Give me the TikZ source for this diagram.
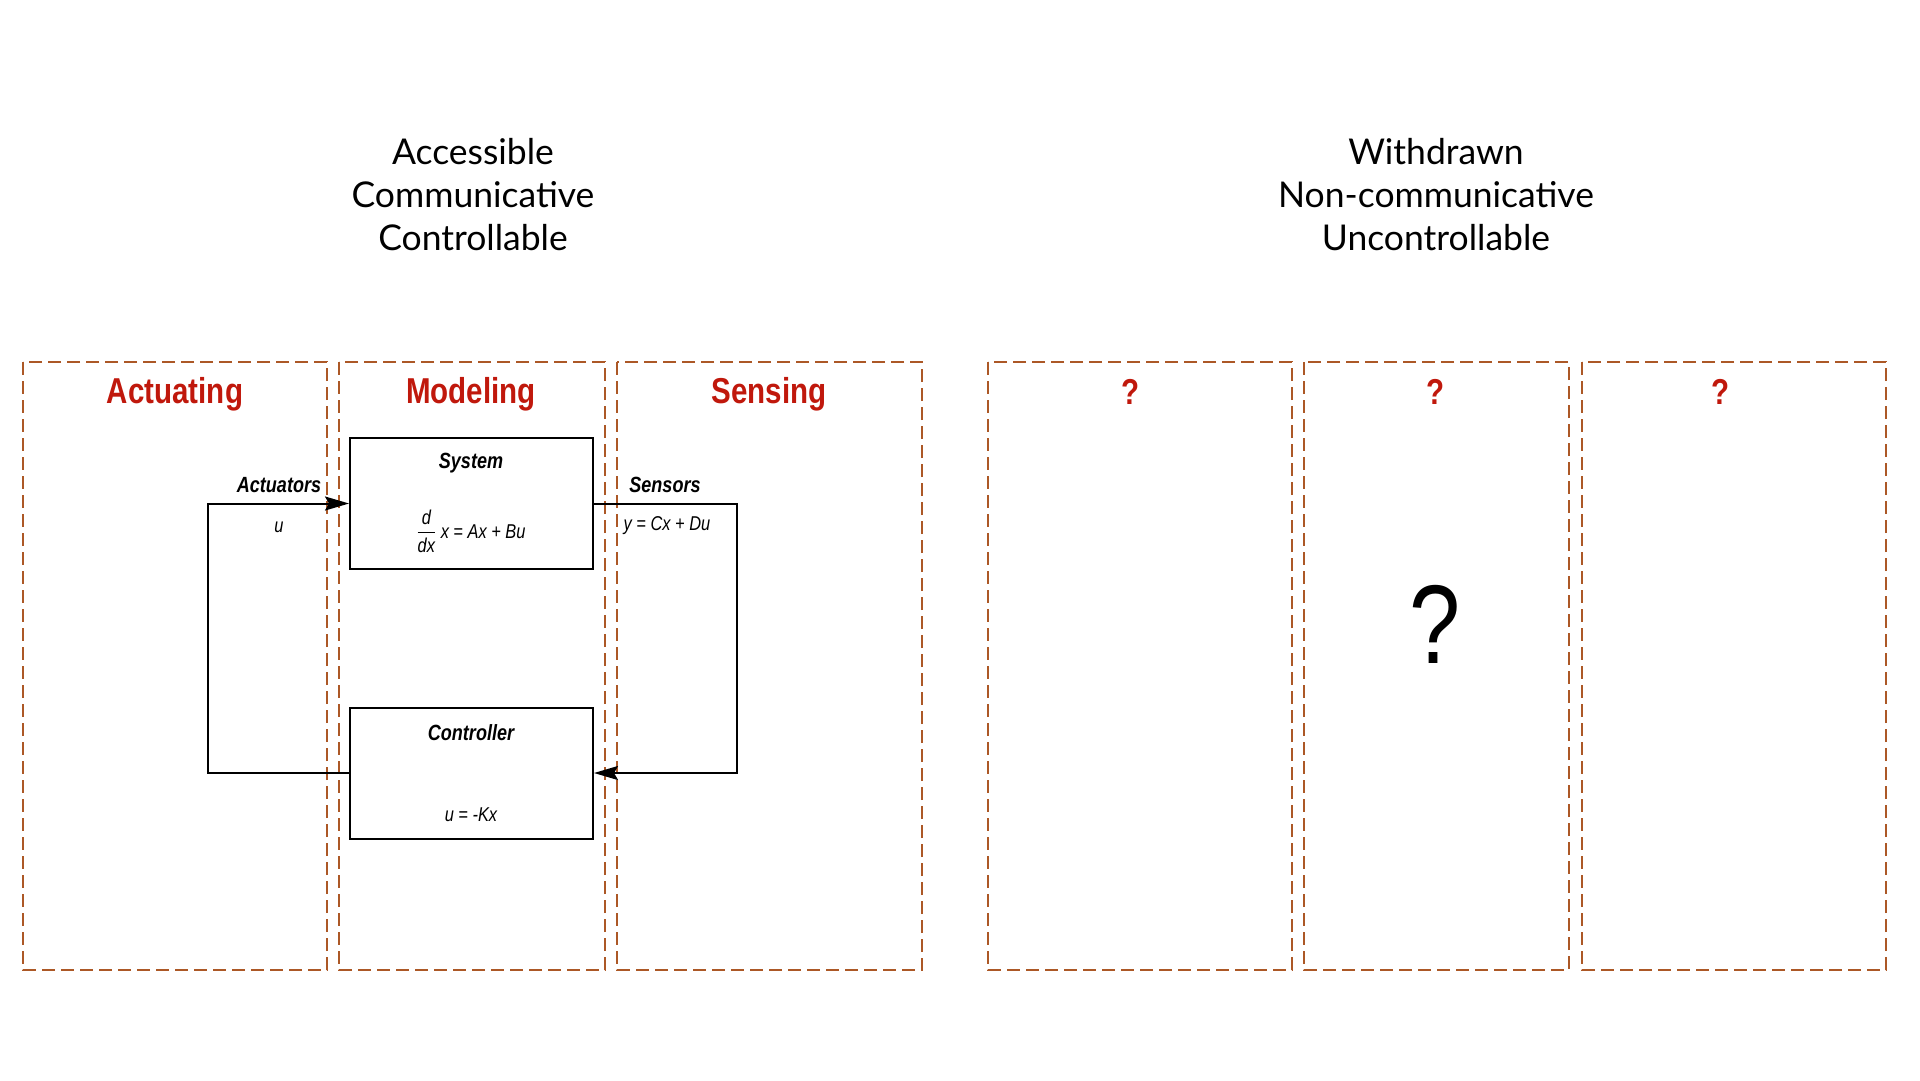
\documentclass[tikz,border=0pt]{standalone}
\usepackage{amsmath}
\usepackage{fontspec}
\setmainfont{Liberation Sans}[FakeStretch=0.82]
\newfontfamily\lightfont{Lato}
\usetikzlibrary{arrows.meta}

\definecolor{panelbrown}{RGB}{172,88,38}
\definecolor{headred}{RGB}{192,24,12}

\tikzset{
  panel/.style={draw=panelbrown, line width=2.4pt, dash pattern=on 13pt off 6pt},
  heading/.style={text=headred, font=\fontsize{36}{40}\selectfont\bfseries},
  block/.style={draw, line width=2pt, minimum width=243pt, minimum height=131pt, inner sep=0pt},
  blocktitle/.style={font=\fontsize{22}{26}\selectfont\bfseries\itshape},
  blocktext/.style={font=\fontsize{20}{23}\selectfont\itshape},
  wire/.style={line width=2pt},
  tip/.style={-{Stealth[length=24pt,width=14pt,inset=4pt]}},
  caption/.style={align=center, font=\lightfont\fontsize{35.5}{43}\selectfont}
}

\begin{document}
\begin{tikzpicture}[x=1pt, y=-1pt]
    \useasboundingbox (0,0) rectangle (1920,1080);

    % top captions
    \node[caption] (open) at (473,195) {Accessible\\Communicative\\Controllable};
    \node[caption] (closed) at (1436,195) {Withdrawn\\Non-communicative\\Uncontrollable};

    % dashed panels
    \foreach \xa/\xb in {23/327, 339/605, 617/922, 988/1292, 1304/1569, 1582/1886}
        \draw[panel] (\xa,362) rectangle (\xb,970);

    \node[heading] (actuating) at (175,394) {Actuating};
    \node[heading] (modeling) at (471,394) {Modeling};
    \node[heading] (sensing) at (769,394) {Sensing};
    \node[heading] (qa) at (1131,392) {?};
    \node[heading] (qb) at (1435,392) {?};
    \node[heading] (qc) at (1720,392) {?};
    \node[font=\fontsize{112}{116}\selectfont] (bigq) at (1435,624) {?};

    % blocks
    \node[block] (system) at (471.5,503.5) {};
    \node[blocktitle] (systitle) at (471,463) {System};
    \node[blocktext] (syseq) at (471,531) {$\dfrac{\text{d}}{\text{dx}}$ x = Ax + Bu};

    \node[block] (controller) at (471.5,773) {};
    \node[blocktitle] (ctrltitle) at (471,733) {Controller};
    \node[blocktext] (ctrleq) at (471,815) {u = -Kx};

    % loop
    \draw[wire, tip] (controller.west) -- ++(-141,0) |- (system.west);
    \draw[wire, tip] (system.east) -- ++(143,0) |- (controller.east);

    \node[blocktitle] (actlabel) at (279,485) {Actuators};
    \node[blocktext] (uin) at (279,527) {u};
    \node[blocktitle] (senslabel) at (665,485) {Sensors};
    \node[blocktext] (yout) at (667,526) {y = Cx + Du};
\end{tikzpicture}
\end{document}
